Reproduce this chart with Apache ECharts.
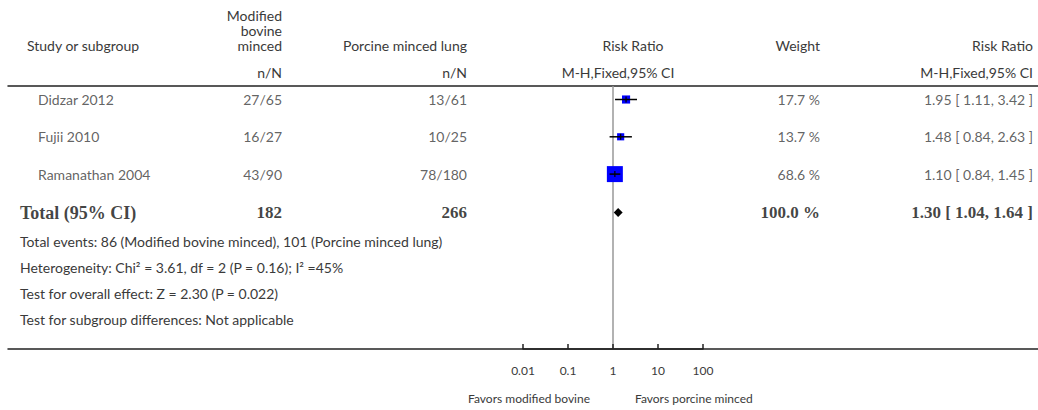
<!DOCTYPE html>
<html><head><meta charset="utf-8">
<script src="https://cdn.jsdelivr.net/npm/echarts@6/dist/echarts.min.js"></script>
<style>html,body{margin:0;padding:0;background:#fff}#c{width:1038px;height:410px}</style>
</head><body><div id="c"></div>
<script>
var studies = ['Didzar 2012', 'Fujii 2010', 'Ramanathan 2004'];
var expEvents = [27, 16, 43];
var expTotal = [65, 27, 90];
var ctlEvents = [13, 10, 78];
var ctlTotal = [61, 25, 180];
var riskRatio = [1.95, 1.48, 1.10];
var ciLow = [1.11, 0.84, 0.84];
var ciHigh = [3.42, 2.63, 1.45];
var weights = [17.7, 13.7, 68.6];
var totalLabel = 'Total (95% CI)';
var totalExpN = 182;
var totalCtlN = 266;
var totalRR = 1.30;
var totalLow = 1.04;
var totalHigh = 1.64;
var totalWeight = 100.0;
var tickValues = [0.01, 0.1, 1, 10, 100];
var tickLabels = ['0.01', '0.1', '1', '10', '100'];
var footnotes = [
  'Total events: 86 (Modified bovine minced), 101 (Porcine minced lung)',
  'Heterogeneity: Chi\u00b2 = 3.61, df = 2 (P = 0.16); I\u00b2 =45%',
  'Test for overall effect: Z = 2.30 (P = 0.022)',
  'Test for subgroup differences: Not applicable'
];

var FONT = 'Lato, "Open Sans", sans-serif';
var SERIF = '"Liberation Serif", "DejaVu Serif", serif';
var TXT = '#3a3a3a';
var FS = 14;
var rowIdx = studies.map(function (s, i) { return i + 1; });
var totalRow = 4.03;

function fmtCI(r, l, h) { return r.toFixed(2) + ' [ ' + l.toFixed(2) + ', ' + h.toFixed(2) + ' ]'; }

function colSeries(xPos, texts, align, rows, font, size, weight) {
  return {
    type: 'scatter', xAxisIndex: 1, yAxisIndex: 1, symbolSize: 0, silent: true,
    data: texts.map(function (t, i) { return { value: [xPos, rows[i]], name: t }; }),
    label: {
      show: true, position: align === 'right' ? 'left' : 'right', distance: 0,
      formatter: function (p) { return p.name; },
      color: weight ? '#111' : TXT, fontFamily: font, fontSize: size, fontWeight: weight || 'normal'
    }
  };
}

var studyData = studies.map(function (s, i) { return [riskRatio[i], rowIdx[i], ciLow[i], ciHigh[i], weights[i]]; });

var chart = echarts.init(document.getElementById('c'), null, { renderer: 'svg' });
var gTop = 86, gH = 263;
var yMin = 0.638, yMax = 7.689;

function gtext(x, y, text, align, size) {
  return { type: 'text', x: x, y: y, silent: true,
    style: { text: text, fill: TXT, font: (size || FS) + 'px ' + FONT, textAlign: align || 'left', textVerticalAlign: 'middle' } };
}

var graphics = [
  gtext(282, 15, 'Modified', 'right'),
  gtext(282, 30, 'bovine', 'right'),
  gtext(282, 45, 'minced', 'right'),
  gtext(27, 45, 'Study or subgroup', 'left'),
  gtext(467, 45, 'Porcine minced lung', 'right'),
  gtext(633, 45, 'Risk Ratio', 'center'),
  gtext(618, 72, 'M-H,Fixed,95% CI', 'center'),
  gtext(820, 45, 'Weight', 'right'),
  gtext(1033, 45, 'Risk Ratio', 'right'),
  gtext(1033, 72, 'M-H,Fixed,95% CI', 'right'),
  gtext(282, 72, 'n/N', 'right'),
  gtext(467, 72, 'n/N', 'right'),
  gtext(590, 398, 'Favors modified bovine', 'right', 12),
  gtext(635, 398, 'Favors porcine minced', 'left', 12)
];
footnotes.forEach(function (t, i) { graphics.push(gtext(20, 241 + i * 26, t, 'left')); });

var option = {
  backgroundColor: '#fff',
  animation: false,
  grid: [
    { left: 523, width: 180, top: gTop, height: gH },
    { left: 8, right: 0, top: gTop, height: gH }
  ],
  xAxis: [
    { type: 'log', logBase: 10, min: 0.01, max: 100, gridIndex: 0, position: 'bottom',
      axisLine: { show: true, lineStyle: { color: '#222', width: 1.5 } },
      axisTick: { show: true, inside: true, length: 5, lineStyle: { color: '#222', width: 1.5 } },
      axisLabel: { show: true, margin: 15, color: TXT, fontFamily: FONT, fontSize: 12,
        formatter: function (v) { var i = tickValues.findIndex(function (t) { return Math.abs(Math.log10(t) - Math.log10(v)) < 1e-6; }); return i >= 0 ? tickLabels[i] : ''; } },
      splitLine: { show: false }, z: 5 },
    { type: 'value', min: 8, max: 1038, gridIndex: 1, position: 'bottom',
      axisLine: { show: true, lineStyle: { color: '#222', width: 1.5 } },
      axisTick: { show: false }, axisLabel: { show: false }, splitLine: { show: false } },
    { type: 'value', min: 8, max: 1038, gridIndex: 1, position: 'top',
      axisLine: { show: true, lineStyle: { color: '#222', width: 1.5 } },
      axisTick: { show: false }, axisLabel: { show: false }, splitLine: { show: false } }
  ],
  yAxis: [
    { type: 'value', inverse: true, min: yMin, max: yMax, gridIndex: 0, show: false },
    { type: 'value', inverse: true, min: yMin, max: yMax, gridIndex: 1, show: false }
  ],
  graphic: graphics,
  series: [
    { type: 'line', xAxisIndex: 0, yAxisIndex: 0, data: [], silent: true, z: 1,
      markLine: { silent: true, symbol: 'none', label: { show: false },
        lineStyle: { color: '#999', width: 1.5, type: 'solid' }, data: [{ xAxis: 1 }] } },
    { type: 'custom', xAxisIndex: 0, yAxisIndex: 0, z: 10, data: studyData,
      renderItem: function (params, api) {
        var c = api.coord([api.value(0), api.value(1)]);
        var l = api.coord([api.value(2), api.value(1)]);
        var h = api.coord([api.value(3), api.value(1)]);
        var s = 1.93 * Math.sqrt(api.value(4));
        return { type: 'group', children: [
          { type: 'rect', shape: { x: c[0] - s / 2, y: c[1] - s / 2, width: s, height: s }, style: { fill: '#0000ff' } },
          { type: 'line', shape: { x1: l[0], y1: c[1], x2: h[0], y2: c[1] }, style: { stroke: '#000', lineWidth: 1.5 } },
          { type: 'line', shape: { x1: c[0], y1: c[1] - 3, x2: c[0], y2: c[1] + 3 }, style: { stroke: '#000', lineWidth: 1.2 } }
        ] };
      } },
    { type: 'custom', xAxisIndex: 0, yAxisIndex: 0, z: 10, data: [[totalRR, totalRow, totalLow, totalHigh]],
      renderItem: function (params, api) {
        var c = api.coord([api.value(0), api.value(1)]);
        var l = api.coord([api.value(2), api.value(1)]);
        var h = api.coord([api.value(3), api.value(1)]);
        return { type: 'polygon', shape: { points: [[l[0], c[1]], [c[0], c[1] - 4.5], [h[0], c[1]], [c[0], c[1] + 4.5]] }, style: { fill: '#000' } };
      } },
    colSeries(38, studies, 'left', rowIdx, FONT, FS),
    colSeries(282, expEvents.map(function (e, i) { return e + '/' + expTotal[i]; }), 'right', rowIdx, FONT, FS),
    colSeries(467, ctlEvents.map(function (e, i) { return e + '/' + ctlTotal[i]; }), 'right', rowIdx, FONT, FS),
    colSeries(820, weights.map(function (w) { return w.toFixed(1) + ' %'; }), 'right', rowIdx, FONT, FS),
    colSeries(1033, riskRatio.map(function (r, i) { return fmtCI(r, ciLow[i], ciHigh[i]); }), 'right', rowIdx, FONT, FS),
    colSeries(20, [totalLabel], 'left', [totalRow], SERIF, 18, 'bold'),
    colSeries(282, [String(totalExpN)], 'right', [totalRow], SERIF, 17, 'bold'),
    colSeries(467, [String(totalCtlN)], 'right', [totalRow], SERIF, 17, 'bold'),
    colSeries(820, [totalWeight.toFixed(1) + ' %'], 'right', [totalRow], SERIF, 17, 'bold'),
    colSeries(1033, [fmtCI(totalRR, totalLow, totalHigh)], 'right', [totalRow], SERIF, 17, 'bold')
  ]
};
chart.setOption(option);
</script>
</body></html>
